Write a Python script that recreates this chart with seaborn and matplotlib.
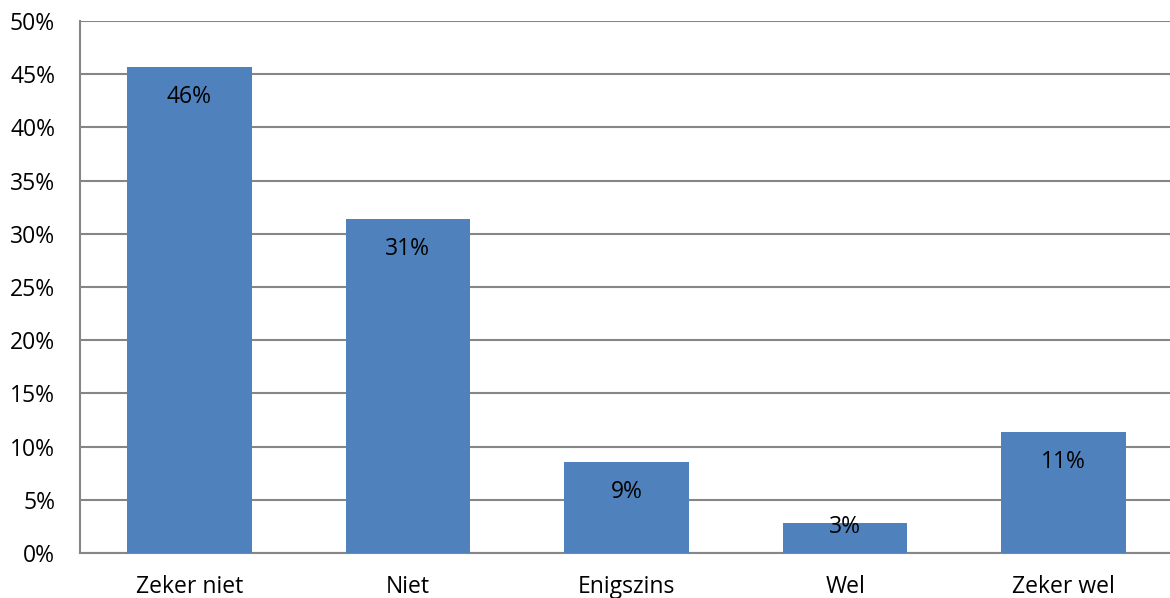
import pandas as pd
import seaborn as sns
import matplotlib.pyplot as plt
from matplotlib.ticker import PercentFormatter

categories = ['Zeker niet', 'Niet', 'Enigszins', 'Wel', 'Zeker wel']
values = [45.7, 31.4, 8.55, 2.8, 11.4]
labels = ['46%', '31%', '9%', '3%', '11%']

df = pd.DataFrame({'cat': categories, 'val': values})

sns.set_style('white')
plt.rcParams['font.family'] = ['Open Sans', 'DejaVu Sans']

fig = plt.figure(figsize=(11.7, 5.98), dpi=100)
ax = fig.add_axes([80 / 1170, 1 - 553 / 598, 1093 / 1170, 532 / 598])

sns.barplot(data=df, x='cat', y='val', color='#4F81BD', saturation=1, width=0.57,
            linewidth=0, ax=ax, zorder=3)

ax.set_ylim(0, 50)
ax.set_xlim(-0.5, 4.5)
ax.set_yticks(range(0, 51, 5))
ax.yaxis.set_major_formatter(PercentFormatter(decimals=0))
ax.grid(axis='y', color='#868686', linewidth=1.5, zorder=0)
ax.set_axisbelow(True)
ax.set_xlabel('')
ax.set_ylabel('')

for s in ['top', 'right']:
    ax.spines[s].set_visible(False)
for s in ['left', 'bottom']:
    ax.spines[s].set_color('#868686')
    ax.spines[s].set_linewidth(1.5)

ax.tick_params(axis='y', length=0, pad=18, labelsize=16.5, labelcolor='black')
ax.tick_params(axis='x', length=0, pad=16, labelsize=16.5, labelcolor='black')

# labels sit just inside the bar top, but never below the axis
for i, (v, lab) in enumerate(zip(values, labels)):
    y = max(v - 2.85, 2.4)
    ax.text(i, y, lab, ha='center', va='center', fontsize=16.5, color='black', zorder=4)

fig.savefig('out.png', dpi=100)
